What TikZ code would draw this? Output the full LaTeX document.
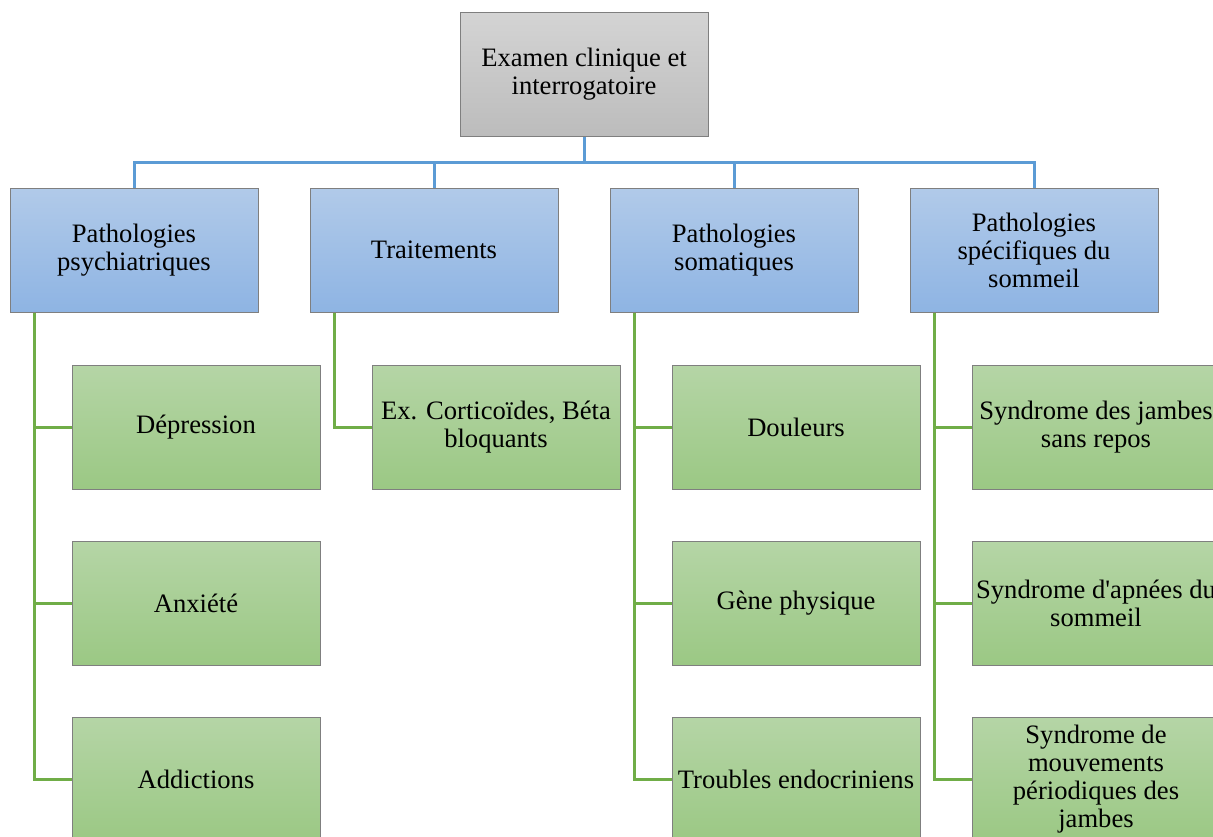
\documentclass[tikz,border=0pt]{standalone}
\usepackage{fontspec}
\newfontfamily\txtfont{Liberation Serif}
\definecolor{bordergray}{HTML}{7F7F7F}
\definecolor{graytop}{HTML}{D4D4D4}
\definecolor{graybot}{HTML}{BCBCBC}
\definecolor{bluetop}{HTML}{B1CAE9}
\definecolor{bluebot}{HTML}{8EB4E3}
\definecolor{greentop}{HTML}{B5D5A6}
\definecolor{greenbot}{HTML}{9BC884}
\definecolor{blueline}{HTML}{5B9BD5}
\definecolor{greenline}{HTML}{70AD47}
\tikzset{
  box/.style={draw=bordergray, line width=1pt, minimum width=248pt, minimum height=124pt,
    inner sep=2pt, align=center, font=\txtfont\fontsize{26.6}{28}\selectfont},
  topbox/.style={box, top color=graytop, bottom color=graybot},
  bluebox/.style={box, top color=bluetop, bottom color=bluebot},
  greenbox/.style={box, top color=greentop, bottom color=greenbot},
  bline/.style={draw=blueline, line width=3pt},
  gline/.style={draw=greenline, line width=3pt},
}
\begin{document}
\begin{tikzpicture}[x=1pt,y=-1pt]
\useasboundingbox (0,0) rectangle (1213,836);
\clip (0,0) rectangle (1213,836);
\fill[white] (0,0) rectangle (1213,836);

\node[topbox] (top) at (584,74) {Examen clinique et\\interrogatoire};

\node[bluebox] (b1) at (134,250) {Pathologies\\psychiatriques};
\node[bluebox] (b2) at (434,250) {Traitements};
\node[bluebox] (b3) at (734,250) {Pathologies\\somatiques};
\node[bluebox] (b4) at (1034,250) {Pathologies\\spécifiques du\\sommeil};

\coordinate (hub) at (584,162);
\draw[bline] (top.south) -- (hub);
\foreach \b in {b1,b2,b3,b4} \draw[bline] (hub) -| (\b.north);

\node[greenbox] (g11) at (196,427) {Dépression};
\node[greenbox] (g12) at (196,603) {Anxiété};
\node[greenbox] (g13) at (196,779) {Addictions};

\node[greenbox] (g21) at (496,427) {Ex. Corticoïdes, Béta\\bloquants};

\node[greenbox] (g31) at (796,427) {Douleurs};
\node[greenbox] (g32) at (796,603) {Gène physique};
\node[greenbox] (g33) at (796,779) {Troubles endocriniens};

\node[greenbox] (g41) at (1096,427) {Syndrome des jambes\\sans repos};
\node[greenbox] (g42) at (1096,603) {Syndrome d'apnées du\\sommeil};
\node[greenbox] (g43) at (1096,779) {Syndrome de\\mouvements\\périodiques des\\jambes};

\foreach \p/\c in {b1/g11,b1/g12,b1/g13,b2/g21,b3/g31,b3/g32,b3/g33,b4/g41,b4/g42,b4/g43}
  \draw[gline] ([xshift=25pt]\p.south west) |- (\c.west);
\end{tikzpicture}
\end{document}
